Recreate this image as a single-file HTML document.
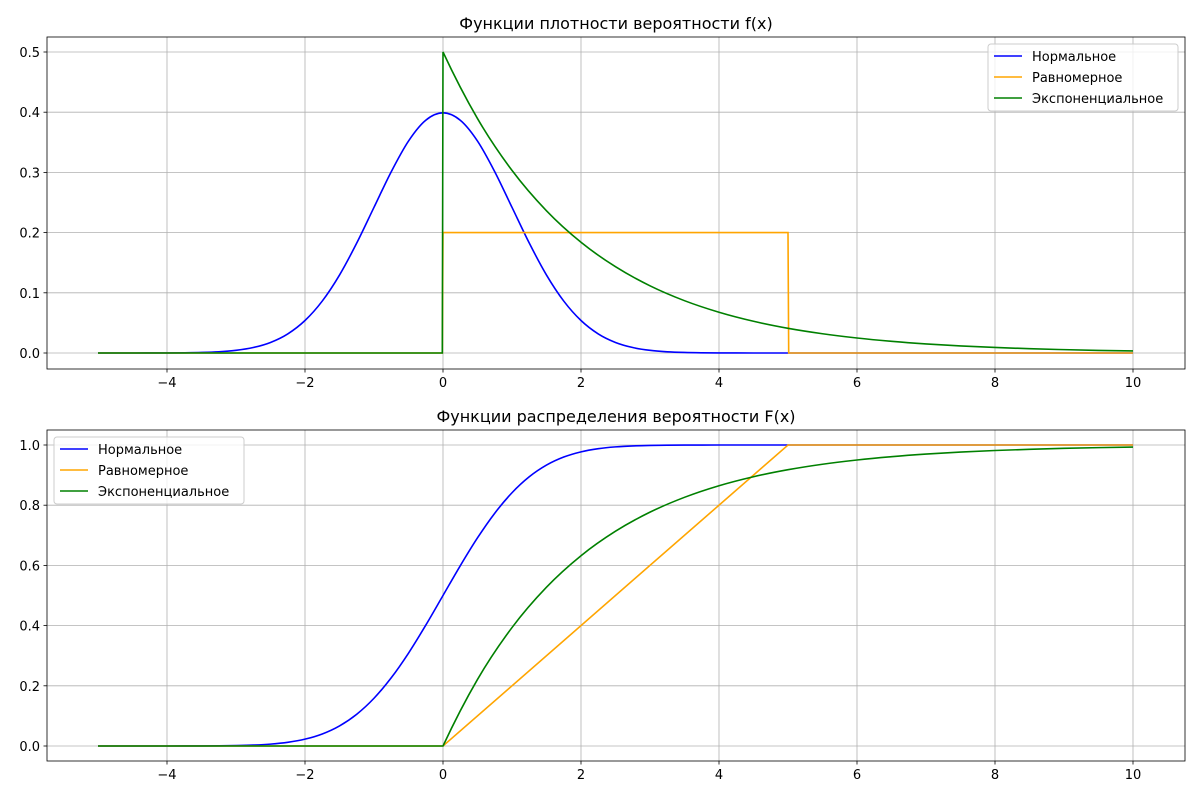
<!DOCTYPE html>
<html><head><meta charset="utf-8"><style>
body{margin:0;background:#fff}
svg text{font-family:"DejaVu Sans","Liberation Sans",sans-serif;fill:#000}
</style></head><body>
<svg id="c" width="1200" height="800" xmlns="http://www.w3.org/2000/svg"></svg>
<script>
const normX=[-5,-4.75,-4.5,-4.25,-4,-3.75,-3.5,-3.25,-3,-2.75,-2.5,-2.25,-2,-1.75,-1.5,-1.25,-1,-0.75,-0.5,-0.25,0,0.25,0.5,0.75,1,1.25,1.5,1.75,2,2.25,2.5,2.75,3,3.25,3.5,3.75,4,4.25,4.5,4.75,5,10];
const normPdf=[0.0000015,0.000005,0.000016,0.000047,0.000134,0.000353,0.000873,0.00203,0.00443,0.00909,0.01753,0.03174,0.05399,0.08628,0.12952,0.18265,0.24197,0.30114,0.35207,0.38667,0.39894,0.38667,0.35207,0.30114,0.24197,0.18265,0.12952,0.08628,0.05399,0.03174,0.01753,0.00909,0.00443,0.00203,0.000873,0.000353,0.000134,0.000047,0.000016,0.000005,0.0000015,0];
const normCdf=[0,0.000001,0.0000034,0.00001,0.00003,0.00009,0.00023,0.00058,0.00135,0.00298,0.00621,0.01222,0.02275,0.04006,0.06681,0.10565,0.15866,0.22663,0.30854,0.40129,0.5,0.59871,0.69146,0.77337,0.84134,0.89435,0.93319,0.95994,0.97725,0.98778,0.99379,0.99702,0.99865,0.99942,0.99977,0.99991,0.99997,0.99999,1,1,1,1];
const uniX=[-5,-0.01,0,5,5.01,10];
const uniPdf=[0,0,0.2,0.2,0,0];
const uniCdf=[0,0,0,1,1,1];
const expX=[-5,-0.01,0,0.5,1,1.5,2,2.5,3,3.5,4,4.5,5,5.5,6,6.5,7,7.5,8,8.5,9,9.5,10];
const expPdf=[0,0,0.5,0.3894,0.3033,0.2362,0.1839,0.1433,0.1116,0.0869,0.0677,0.0527,0.0410,0.0320,0.0249,0.0194,0.0151,0.0118,0.0092,0.0071,0.0056,0.0043,0.0034];
const expCdf=[0,0,0,0.2212,0.3935,0.5276,0.6321,0.7135,0.7769,0.8262,0.8647,0.8946,0.9179,0.9361,0.9502,0.9612,0.9698,0.9765,0.9817,0.9857,0.9889,0.9913,0.9933];
const xTicks=[-4,-2,0,2,4,6,8,10];
const topYTicks=[0,0.1,0.2,0.3,0.4,0.5];
const botYTicks=[0,0.2,0.4,0.6,0.8,1.0];
const labels=["Нормальное","Равномерное","Экспоненциальное"];
const colors=["blue","orange","green"];

const svg=document.getElementById('c');
const NS="http://www.w3.org/2000/svg";
function mk(t,a,p){const e=document.createElementNS(NS,t);for(const k in a)e.setAttribute(k,a[k]);(p||svg).appendChild(e);return e;}
const sx=v=>443+v*69;
// monotone cubic segment string for one run of pixel points (no leading M)
function monoRun(px,py){
  const n=px.length;
  if(n<3){let s='';for(let i=1;i<n;i++)s+=' L'+px[i]+','+py[i];return s;}
  const d=[],m=[],h=[];
  for(let i=0;i<n-1;i++){h.push(px[i+1]-px[i]);d.push((py[i+1]-py[i])/h[i]);}
  for(let i=1;i<n-1;i++)m[i]=(d[i-1]*d[i]<=0)?0:(d[i-1]+d[i])/2;
  m[0]=((2*h[0]+h[1])*d[0]-h[0]*d[1])/(h[0]+h[1]);
  if(m[0]*d[0]<=0)m[0]=0;
  m[n-1]=((2*h[n-2]+h[n-3])*d[n-2]-h[n-2]*d[n-3])/(h[n-2]+h[n-3]);
  if(m[n-1]*d[n-2]<=0)m[n-1]=0;
  for(let i=0;i<n-1;i++){if(d[i]===0){m[i]=0;m[i+1]=0;continue;}
    const a=m[i]/d[i],b=m[i+1]/d[i],s=a*a+b*b;if(s>9){const t=3/Math.sqrt(s);m[i]=t*a*d[i];m[i+1]=t*b*d[i];}}
  let p='';
  for(let i=0;i<n-1;i++){const hh=h[i]/3;
    p+=' C'+(px[i]+hh)+','+(py[i]+m[i]*hh)+' '+(px[i+1]-hh)+','+(py[i+1]-m[i+1]*hh)+' '+px[i+1]+','+py[i+1];}
  return p;
}
function pathFor(xs,ys,sy){
  // split into runs at discontinuities (tiny x gaps)
  const runs=[[0]];
  for(let i=1;i<xs.length;i++){if(xs[i]-xs[i-1]<0.05)runs.push([i]);else runs[runs.length-1].push(i);}
  let p='M'+sx(xs[0])+','+sy(ys[0]);
  runs.forEach((r,k)=>{
    if(k>0)p+=' L'+sx(xs[r[0]])+','+sy(ys[r[0]]);
    p+=monoRun(r.map(i=>sx(xs[i])),r.map(i=>sy(ys[i])));
  });
  return p;
}
function panel(top,bot,y0px,ypx,yTicks,title,series,legX,legY,name){
  const sy=v=>y0px-v*ypx;
  const g=mk('g',{});
  
  
  xTicks.forEach(t=>{mk('line',{x1:sx(t),x2:sx(t),y1:top,y2:bot,stroke:'#b0b0b0','stroke-width':0.8},g);
    mk('line',{x1:sx(t),x2:sx(t),y1:bot,y2:bot+3.5,stroke:'#000','stroke-width':0.8},g);
    const tx=mk('text',{x:sx(t),y:bot+18,'text-anchor':'middle','font-size':13},g);tx.textContent=(t<0?'−'+(-t):t);
    });
  yTicks.forEach(t=>{mk('line',{x1:47,x2:1185,y1:sy(t),y2:sy(t),stroke:'#b0b0b0','stroke-width':0.8},g);
    mk('line',{x1:43.5,x2:47,y1:sy(t),y2:sy(t),stroke:'#000','stroke-width':0.8},g);
    const tx=mk('text',{x:40,y:sy(t)+5,'text-anchor':'end','font-size':13},g);tx.textContent=t.toFixed(1);
    });
  series.forEach((s,i)=>{const p=mk('path',{d:pathFor(s[0],s[1],sy),fill:'none',stroke:colors[i],'stroke-width':1.6},g);
    });
  mk('rect',{x:47,y:top,width:1138,height:bot-top,fill:'none',stroke:'#000','stroke-width':0.8},g);
  const tt=mk('text',{x:616,y:top-8,'text-anchor':'middle','font-size':16},g);tt.textContent=title;
  
  const lg=mk('g',{},g);
  
  mk('rect',{x:legX,y:legY,width:190,height:67,rx:3,fill:'#fff','fill-opacity':0.8,stroke:'#ccc'},lg);
  labels.forEach((l,i)=>{const yy=legY+12+i*21;
    mk('line',{x1:legX+6,x2:legX+34,y1:yy,y2:yy,stroke:colors[i],'stroke-width':1.6},lg);
    const t=mk('text',{x:legX+44,y:yy+5,'font-size':13},lg);t.textContent=l;
    });
}
panel(37,369,353,602,topYTicks,'Функции плотности вероятности f(x)',[[normX,normPdf],[uniX,uniPdf],[expX,expPdf]],988,44,'pdf-panel');
panel(430,761,746,301,botYTicks,'Функции распределения вероятности F(x)',[[normX,normCdf],[uniX,uniCdf],[expX,expCdf]],54,437,'cdf-panel');
</script>
</body></html>
